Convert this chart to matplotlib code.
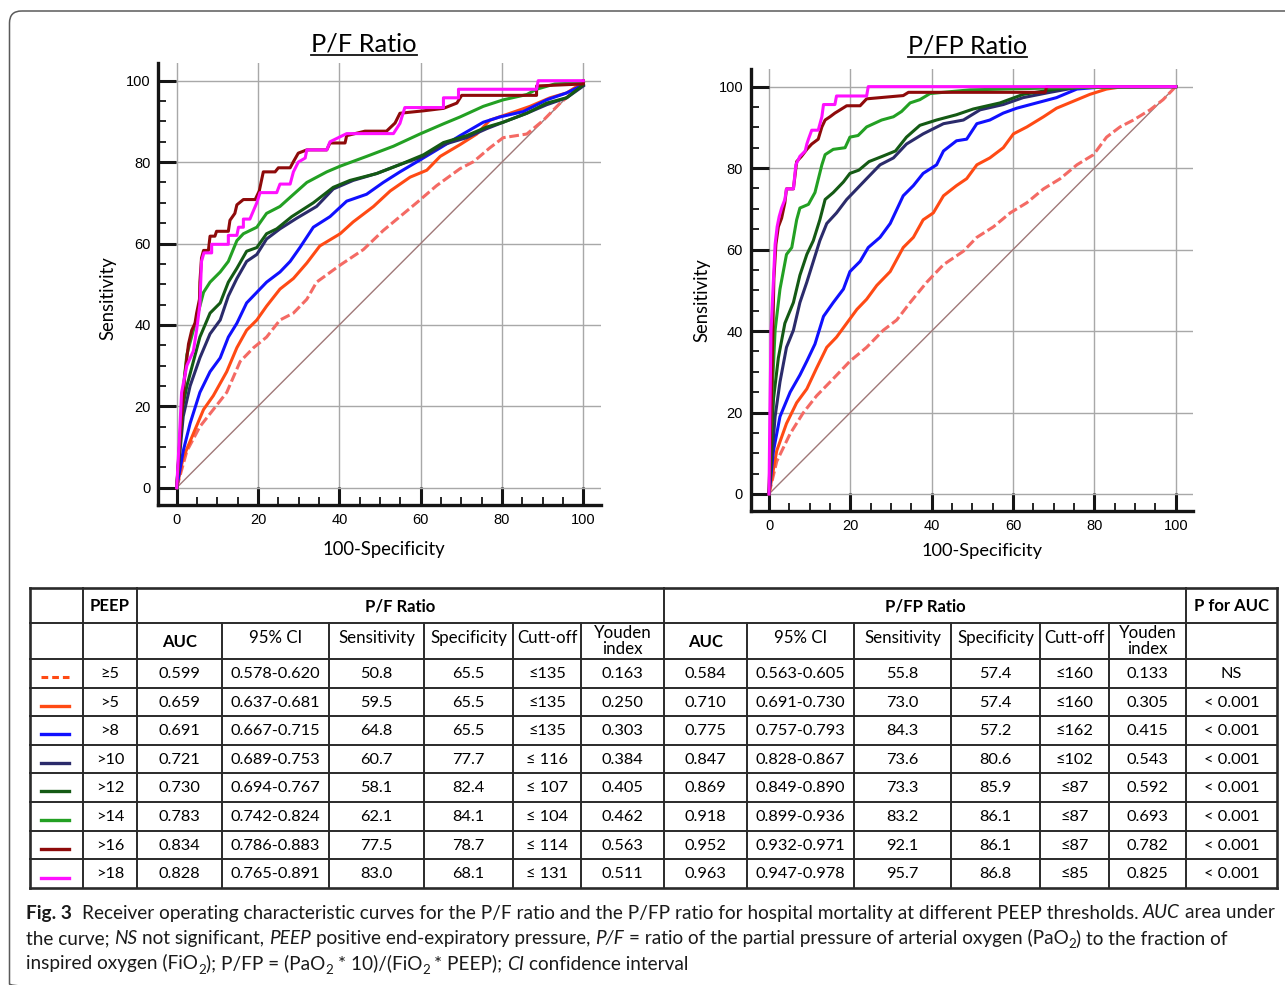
import matplotlib
matplotlib.use("Agg")
import matplotlib.pyplot as plt
from matplotlib.patches import FancyBboxPatch
from matplotlib.lines import Line2D

# ---------------- data: ROC curves (100-Specificity, Sensitivity) ----------------
# P/F ratio panel
pf_ge5 = [(0,0),(2.5,9),(5.7,15),(9,19.2),(12.3,23.4),(15.6,31),(18.9,34.4),(22.1,37),(25.4,41.2),(28.7,42.9),
          (32,46.3),(34.4,50.5),(40.2,54.7),(45.9,58.5),(50.8,63.2),(54.9,66.6),(59,70),(63.9,74.2),(69.7,78.4),
          (73,80.1),(77,83.5),(80.3,86),(86.1,86.9),(90.2,90.3),(94.3,94.5),(98.4,97.9),(100,99.6)]
pf_gt5 = [(0,0),(1.6,7.4),(4.1,13.3),(6.6,19.2),(9,22.6),(12.3,28.5),(14.8,34.4),(17.2,38.7),(19.7,41.2),(22.1,44.6),
          (25.4,48.8),(28.7,51.4),(32,55.2),(35.2,59.4),(40.2,62.4),(43.4,65.3),(48.4,69.1),(52.5,72.9),(57.4,76.3),
          (61.5,78),(64.8,81.4),(69.7,84.3),(73.8,86.9),(77,90.3),(82,92),(86.9,93.7),(91.8,95.8),(95.9,97),(100,99.6)]
pf_gt8 = [(0,0),(1.6,9),(3.3,15.8),(5.7,23.4),(8.2,28.5),(10.7,31.9),(12.7,37),(14.8,40.4),(17.2,45.4),(19.7,48),
          (22.1,50.5),(25.4,53),(27.9,55.6),(30.3,59),(33.6,64),(37.7,66.6),(41.8,70.4),(46.7,72.1),(50.8,75),
          (54.9,77.6),(59.8,80.5),(64.8,83.5),(69.7,86.5),(75.4,89.8),(79.5,91.1),(85.2,92.4),(91,95.3),(95.9,97),(100,99)]
pf_gt10 = [(0,0),(1.6,17.5),(3.3,25),(5.7,31.9),(8.2,37.8),(10.7,41.2),(12.7,47.1),(14.8,51.4),(17.2,55.6),(19.7,57.3),
           (22.1,61.1),(25.4,63.6),(29.5,66.2),(34.4,69.1),(38.5,73.4),(43.4,75.5),(49.2,77.2),(54.9,79.4),(60.7,81.4),
           (65.6,84.3),(71.3,86),(76.2,88.2),(80.3,89.8),(86.1,92),(91,94.1),(95.9,95.8),(100,98.7)]
pf_gt12 = [(0,0),(1.5,20),(2.5,25),(4.1,31),(5.7,37),(8.2,42.9),(10.7,45.4),(12.7,50.5),(14.8,53.9),(17.2,58.1),
           (19.7,59),(22.1,62.4),(24.6,63.6),(28.3,66.6),(33.6,70),(38.5,73.8),(42.6,75.5),(49.2,77.2),(54.9,79.4),
           (60.7,81.8),(65.6,84.8),(71.3,86.5),(76.2,88.6),(80.3,89.8),(86.1,92),(91,94.5),(95.9,95.8),(100,99)]
pf_gt14 = [(0,0),(1.5,23.4),(2.5,32.7),(4.1,38.7),(5.7,44.6),(6.6,48),(8.2,50.5),(10.7,53),(12.7,55.6),(14.8,60.7),
           (16.4,62.4),(19.7,64),(22.1,67.4),(25.4,69.1),(28.3,71.7),(32,75),(36.9,77.6),(40.2,79),(46.7,81.4),
           (53.3,83.9),(59.8,86.9),(65.6,89.4),(69.7,91.1),(75.4,93.7),(80.3,95.3),(86.1,96.6),(88.5,97.9),(93,99.2),(100,99.5)]
pf_gt16 = [(0,0),(1.2,17.5),(2,27.7),(2.9,35.3),(3.7,38.7),(4.5,40.4),(4.9,42.9),(5.6,46.3),(5.7,50.5),(6.1,56.4),
           (6.6,58.3),(7.8,58.3),(8.2,61.8),(9.4,61.8),(9.8,63),(12.7,63),(13.1,65.7),(14.3,67.4),(14.8,69.5),(16.4,70.8),
           (19.3,70.8),(20.3,72.9),(21.3,77.6),(24.2,77.6),(25,78.6),(27.9,78.6),(28.7,80.1),(29.9,82.2),(32,83),
           (36.9,83),(37.7,84.7),(41.4,84.7),(41.8,86.5),(46.3,87.6),(51.6,87.6),(53.7,89.6),(54.9,92),(60.7,92.6),
           (65.6,93.2),(68.9,94.5),(70.1,96.4),(88.5,96.4),(88.5,98.7),(100,99.2),(100,100)]
pf_gt18 = [(0,0),(0.7,13),(1.2,23.4),(2.5,30),(4.1,33.6),(4.9,38.7),(5.7,45),(6.1,55.6),(6.7,57.7),(8.6,57.7),
           (8.6,59.8),(12.7,59.8),(12.7,62),(14.8,62),(15.2,64),(16.4,64),(16.4,66),(18,66),(19.7,70),(20.5,72.5),
           (24.6,72.5),(25.4,74.6),(27.9,74.6),(28.7,77.6),(29.9,80),(31.6,81),(32,83),(36.9,83),(37.7,85),(41.8,87),
           (53.3,87),(54.9,89.5),(56.1,93.4),(65.6,93.4),(65.6,95.8),(69.3,95.8),(69.3,97.9),(88.5,97.9),(88.9,100),(100,100)]

# P/FP ratio panel
pfp_ge5 = [(0,0),(1.9,8),(5.2,14.8),(8.4,19.9),(11.7,24.1),(15.8,28.3),(19.9,32.6),(24,36),(28.1,40.2),(31.4,42.7),
           (34.7,47),(38.8,52),(42.9,56.3),(47.8,59.6),(51.1,63),(55.2,65.6),(59.3,69),(63.4,71.5),(67.5,74.9),
           (71.6,77.4),(75.7,80.8),(79.8,83.3),(83,87.6),(86.3,90.1),(89.6,91.8),(93.7,94.3),(96.9,96.8),(100,100)]
pfp_gt5 = [(0,0),(1.9,10.6),(4.3,17.3),(6.8,22.4),(9.3,25.8),(11.7,30.9),(14.2,36),(16.6,38.5),(19.1,41.9),(21.6,45.3),
           (24,47.8),(26.5,51.2),(29.8,54.6),(33,60.5),(35.5,63),(37.9,67.3),(40.4,69),(42.9,73.2),(46.1,75.7),
           (48.6,77.4),(51.1,80.8),(54.3,82.5),(57.6,85),(60.1,88.4),(63.4,90.1),(67.5,92.6),(70.7,94.7),(74.8,96.4),
           (78.9,98.1),(83,99.4),(87.1,100),(100,100)]
pfp_gt8 = [(0,0),(1.1,10.6),(2.7,19),(5.2,25),(7.6,29.2),(9.3,32.6),(11.3,36.8),(13.4,43.6),(15.8,47),(18.3,50.3),
           (19.9,54.6),(22.4,57.1),(24.4,60.5),(27.3,63),(29.8,66.4),(33,73.2),(35.5,75.7),(37.9,78.7),(41.2,80.8),
           (42.9,84.2),(46.1,86.7),(48.6,87.1),(51.1,90.9),(54.3,91.8),(57.6,93.5),(60.9,94.7),(65.8,96),(70.7,97.3),
           (75.7,99.4),(83,100),(100,100)]
pfp_gt10 = [(0,0),(1.5,19),(2.7,27.5),(4.3,36),(6,40.2),(7.6,47),(9.3,52),(10.9,57.1),(12.5,62.2),(14.2,66.4),
            (16.6,69),(19.1,72.3),(21.6,74.9),(24,77.4),(27.3,80.8),(30.6,82.5),(33.8,85.9),(37.9,88.4),(42.9,90.9),
            (47.8,91.8),(51.9,94.3),(57.6,95.6),(62.5,97.3),(69.1,98.6),(75.7,99.8),(100,100)]
pfp_gt12 = [(0,0),(1.1,23.3),(2.3,33.4),(3.9,41.9),(6,47),(7.6,53.7),(9.3,58.8),(10.9,62.2),(12.5,67.3),(13.8,72.3),
            (15.8,74),(18.3,76.6),(19.9,78.7),(22.1,79.5),(24.6,81.6),(27.9,82.9),(31.1,84.2),(33.8,87.6),(37.1,90.5),
            (41.2,91.8),(46.1,93.1),(50.2,94.5),(56.8,96),(62.5,98.1),(70.7,99.4),(78.9,100),(100,100)]
pfp_gt14 = [(0,0),(0.7,23.3),(1.5,40.2),(2.7,50.3),(4.3,58.8),(5.6,60.5),(6.8,67.3),(7.6,70.2),(9.7,71.1),(11.3,74),
            (13,80.8),(13.8,83.3),(15.8,84.6),(18.7,85),(19.9,87.6),(21.9,88),(24,90.1),(27.7,91.8),(30.6,92.6),
            (32.6,93.9),(34.7,96),(37.1,96.8),(39.6,98.3),(49.4,99.2),(70.7,99.7),(100,100)]
pfp_gt16 = [(0,0),(0.7,27.5),(1.2,52.9),(1.7,61.3),(2.3,65.6),(3.1,67.7),(3.9,71.5),(4.3,74.9),(6,74.9),(6.8,81.6),
            (8,82.9),(9.3,84.6),(10.5,85.9),(12.1,87.1),(13,90.1),(13.8,91.8),(15,92.6),(16.2,93.5),(17.5,94.3),
            (19.1,95.3),(22.4,95.3),(24,97),(33,97.8),(34.3,98.6),(67.9,98.6),(68.3,100),(100,100)]
pfp_gt18 = [(0,0),(0.2,19),(0.5,40),(0.9,48.6),(1.5,61.3),(2,65.6),(2.5,68.1),(3.1,70.2),(3.9,72.3),(4.3,74.9),
            (6,74.9),(6.6,80.8),(7.6,82.9),(8.9,84.2),(9.3,85.9),(9.7,87.1),(10.5,89.3),(12.1,89.3),(13,92.6),
            (13.4,95.6),(16.2,95.6),(16.6,97.7),(24,97.7),(24.4,100),(100,100)]

# ---------------- data: table ----------------
peep = ["\u22655", ">5", ">8", ">10", ">12", ">14", ">16", ">18"]
pf_auc = ["0.599", "0.659", "0.691", "0.721", "0.730", "0.783", "0.834", "0.828"]
pf_ci = ["0.578-0.620", "0.637-0.681", "0.667-0.715", "0.689-0.753", "0.694-0.767", "0.742-0.824", "0.786-0.883", "0.765-0.891"]
pf_sens = ["50.8", "59.5", "64.8", "60.7", "58.1", "62.1", "77.5", "83.0"]
pf_spec = ["65.5", "65.5", "65.5", "77.7", "82.4", "84.1", "78.7", "68.1"]
pf_cut = ["\u2264135", "\u2264135", "\u2264135", "\u2264 116", "\u2264 107", "\u2264 104", "\u2264 114", "\u2264 131"]
pf_youden = ["0.163", "0.250", "0.303", "0.384", "0.405", "0.462", "0.563", "0.511"]
pfp_auc = ["0.584", "0.710", "0.775", "0.847", "0.869", "0.918", "0.952", "0.963"]
pfp_ci = ["0.563-0.605", "0.691-0.730", "0.757-0.793", "0.828-0.867", "0.849-0.890", "0.899-0.936", "0.932-0.971", "0.947-0.978"]
pfp_sens = ["55.8", "73.0", "84.3", "73.6", "73.3", "83.2", "92.1", "95.7"]
pfp_spec = ["57.4", "57.4", "57.2", "80.6", "85.9", "86.1", "86.1", "86.8"]
pfp_cut = ["\u2264160", "\u2264160", "\u2264162", "\u2264102", "\u226487", "\u226487", "\u226487", "\u226485"]
pfp_youden = ["0.133", "0.305", "0.415", "0.543", "0.592", "0.693", "0.782", "0.825"]
p_for_auc = ["NS", "< 0.001", "< 0.001", "< 0.001", "< 0.001", "< 0.001", "< 0.001", "< 0.001"]
sub_headers = ["AUC", "95% CI", "Sensitivity", "Specificity", "Cutt-off", "Youden\nindex"]

# ---------------- styles ----------------
curve_colors = ["#f46a64", "#ff4a14", "#1010ff", "#2b2b6b", "#145a14", "#23a023", "#8e0a0a", "#ff10ff"]
table_colors = ["#ff4a14", "#ff4a14", "#1010ff", "#2b2b6b", "#145a14", "#23a023", "#8e0a0a", "#ff10ff"]
FAM = ["Lato", "DejaVu Sans"]
TICKFAM = ["Liberation Sans", "DejaVu Sans"]

W, H = 1285, 985
fig = plt.figure(figsize=(W / 100, H / 100), dpi=100)
R = fig.canvas.get_renderer()

ov = fig.add_axes([0, 0, 1, 1])
ov.set_xlim(0, W)
ov.set_ylim(H, 0)
ov.axis("off")

# rounded frame
ov.add_patch(FancyBboxPatch((9.5, 11), 1320, 985, boxstyle="round,pad=0,rounding_size=12",
                            ec="#5a5a5a", fc="none", lw=1.1))


def px_axes(l, t, r, b):
    return fig.add_axes([l / W, 1 - b / H, (r - l) / W, (b - t) / H])


def fit_text(x, y, s, size, target, rot=0, **kw):
    t = ov.text(x, y, s, fontsize=size, rotation=rot, **kw)
    bb = t.get_window_extent(R)
    w = bb.height if rot == 90 else bb.width
    t.set_fontsize(size * target / w)
    return t


def roc_panel(box, curves, title, title_xy, title_w, ul_y, ylab_xy, xlab_xy, xlab_w):
    ax = px_axes(*box)
    ax.set_xlim(-4.5, 104.3)
    ax.set_ylim(-4.25, 104.3)
    ax.set_facecolor("none")
    for sp in ("top", "right"):
        ax.spines[sp].set_visible(False)
    for sp in ("left", "bottom"):
        ax.spines[sp].set_linewidth(2.4)
        ax.spines[sp].set_color("#151515")
    ax.set_xticks(range(0, 101, 20))
    ax.set_yticks(range(0, 101, 20))
    ax.set_xticks(range(0, 101, 5), minor=True)
    ax.set_yticks(range(0, 101, 5), minor=True)
    ax.tick_params(which="major", direction="in", length=13, width=2.2, color="#151515",
                   labelsize=10.5, pad=5.5)
    ax.tick_params(which="minor", direction="in", length=5.5, width=1.3, color="#151515")
    for lab in ax.get_xticklabels() + ax.get_yticklabels():
        lab.set_family(TICKFAM)
    ax.grid(True, which="major", color="#a8a8a8", lw=1.0)
    ax.set_axisbelow(True)
    ax.plot([0, 100], [0, 100], color="#a07878", lw=1.0)
    for i, pts in enumerate(curves):
        xs = [p[0] for p in pts]
        ys = [p[1] for p in pts]
        if i == 0:
            ax.plot(xs, ys, color=curve_colors[i], lw=2.2, linestyle=(0, (3.2, 1.2)))
        else:
            ax.plot(xs, ys, color=curve_colors[i], lw=2.2, solid_joinstyle="round")
    t = fit_text(title_xy[0], title_xy[1], title, 18, title_w, family=FAM, ha="center", va="baseline")
    bb = t.get_window_extent(R)
    ov.add_line(Line2D([bb.x0, bb.x1], [ul_y, ul_y], color="#111", lw=1.3))
    fit_text(ylab_xy[0], ylab_xy[1], "Sensitivity", 13, 84, rot=90, family=FAM, ha="center", va="center")
    fit_text(xlab_xy[0], xlab_xy[1], "100-Specificity", 13, xlab_w, family=FAM, ha="center", va="center")
    return ax


roc_panel((158.4, 63.2, 600.8, 505.0),
          [pf_ge5, pf_gt5, pf_gt8, pf_gt10, pf_gt12, pf_gt14, pf_gt16, pf_gt18],
          "P/F Ratio", (364, 51.5), 105, 54.8, (108, 298), (384, 549), 123)
roc_panel((750.7, 69.1, 1193.2, 511.3),
          [pfp_ge5, pfp_gt5, pfp_gt8, pfp_gt10, pfp_gt12, pfp_gt14, pfp_gt16, pfp_gt18],
          "P/FP Ratio", (967.5, 53.5), 119, 56.8, (702, 300), (982, 551), 121)

# ---------------- table ----------------
cols = [30, 83.3, 136.7, 222, 329, 424, 513, 581, 664, 747, 854, 951, 1040, 1109, 1186, 1277]
rows = [587.5, 622.7, 659, 687.5, 716, 744.5, 773, 801.5, 830.5, 859, 888]
LC = "#2a2a2a"
lw_in, lw_out = 1.4, 1.9
# horizontal lines
for j, y in enumerate(rows):
    ov.add_line(Line2D([cols[0], cols[-1]], [y, y], color=LC, lw=lw_out if j in (0, len(rows) - 1) else lw_in))
# vertical lines
for i, x in enumerate(cols):
    if i in (0, len(cols) - 1):
        ov.add_line(Line2D([x, x], [rows[0], rows[-1]], color=LC, lw=lw_out))
    elif i in (1, 2, 8, 14):
        ov.add_line(Line2D([x, x], [rows[0], rows[-1]], color=LC, lw=lw_in))
    else:
        ov.add_line(Line2D([x, x], [rows[1], rows[-1]], color=LC, lw=lw_in))


def cx(i):
    return (cols[i] + cols[i + 1]) / 2


# sizes fitted to reference widths
tmp = fit_text(0, 0, "0.578-0.620", 11, 90, family=FAM)
BODY = tmp.get_fontsize(); tmp.remove()
tmp = fit_text(0, 0, "PEEP", 12, 40, family=FAM, fontweight="bold")
HB = tmp.get_fontsize(); tmp.remove()
tmp = fit_text(0, 0, "Sensitivity", 11, 76, family=FAM)
HS = tmp.get_fontsize(); tmp.remove()

y_h1 = (rows[0] + rows[1]) / 2 + 1
ov.text(cx(1), y_h1, "PEEP", fontsize=HB, fontweight="bold", family=FAM, ha="center", va="center")
ov.text((cols[2] + cols[8]) / 2, y_h1, "P/F Ratio", fontsize=HB, fontweight="bold", family=FAM, ha="center", va="center")
ov.text((cols[8] + cols[14]) / 2, y_h1, "P/FP Ratio", fontsize=HB, fontweight="bold", family=FAM, ha="center", va="center")
ov.text(cx(14), y_h1, "P for AUC", fontsize=HB, fontweight="bold", family=FAM, ha="center", va="center")

y_h2 = (rows[1] + rows[2]) / 2
for base in (2, 8):
    for k, h in enumerate(sub_headers):
        if k == 0:
            ov.text(cx(base + k), y_h2 + 1, h, fontsize=HB, fontweight="bold", family=FAM, ha="center", va="center")
        elif "\n" in h:
            ov.text(cx(base + k), y_h2, h, fontsize=HS, family=FAM, ha="center", va="center", linespacing=0.95)
        else:
            ov.text(cx(base + k), y_h2 - 3, h, fontsize=HS, family=FAM, ha="center", va="center")

body_cols = [(1, peep), (2, pf_auc), (3, pf_ci), (4, pf_sens), (5, pf_spec), (6, pf_cut), (7, pf_youden),
             (8, pfp_auc), (9, pfp_ci), (10, pfp_sens), (11, pfp_spec), (12, pfp_cut), (13, pfp_youden), (14, p_for_auc)]
for r in range(8):
    yc = (rows[r + 2] + rows[r + 3]) / 2 + 1
    for ci, vals in body_cols:
        ov.text(cx(ci), yc, vals[r], fontsize=BODY, family=FAM, ha="center", va="center")
    if r == 0:
        ov.add_line(Line2D([41, 69], [yc + 3, yc + 3], color=table_colors[r], lw=2.2, linestyle=(0, (2.2, 1.3))))
    else:
        ov.add_line(Line2D([41, 69], [yc + 3, yc + 3], color=table_colors[r], lw=2.4))

# ---------------- caption ----------------
line1 = [("Fig. 3", "bold"), ("  Receiver operating characteristic curves for the P/F ratio and the P/FP ratio for hospital mortality at different PEEP thresholds. ", "n"),
         ("AUC", "i"), (" area under", "n")]
line2 = [("the curve; ", "n"), ("NS", "i"), (" not significant, ", "n"), ("PEEP", "i"),
         (" positive end-expiratory pressure, ", "n"), ("P/F", "i"),
         (" = ratio of the partial pressure of arterial oxygen (PaO", "n"), ("2", "sub"), (") to the fraction of", "n")]
line3 = [("inspired oxygen (FiO", "n"), ("2", "sub"), ("); P/FP = (PaO", "n"), ("2", "sub"), (" * 10)/(FiO", "n"),
         ("2", "sub"), (" * PEEP); ", "n"), ("CI", "i"), (" confidence interval", "n")]


def props(style, size):
    return dict(fontsize=size * (0.7 if style == "sub" else 1.0), family=FAM,
                fontweight="bold" if style == "bold" else "normal",
                fontstyle="italic" if style == "i" else "normal", color="#1a1a1a")


def width_of(s, fp):
    t = ov.text(0, 0, s, **fp)
    w = t.get_window_extent(R).width
    t.remove()
    return w


def draw_segments(x, y, segs, size):
    arts = []
    for s, style in segs:
        fp = props(style, size)
        sp = width_of("x x", fp) - width_of("xx", fp)
        core = s.strip(" ")
        lead = len(s) - len(s.lstrip(" "))
        trail = len(s) - len(s.rstrip(" "))
        x += lead * sp
        yy = y + (4 if style == "sub" else 0)
        t = ov.text(x, yy, core, ha="left", va="baseline", **fp)
        x += t.get_window_extent(R).width + trail * sp
        arts.append(t)
    return arts, x


arts, xe = draw_segments(26, 918.5, line1, 12)
for a in arts:
    a.remove()
CAP = 12 * (1275 - 26) / (xe - 26)
draw_segments(26, 918.5, line1, CAP)
draw_segments(26, 944, line2, CAP)
draw_segments(26, 969.5, line3, CAP)

fig.savefig("out.png", dpi=100)
